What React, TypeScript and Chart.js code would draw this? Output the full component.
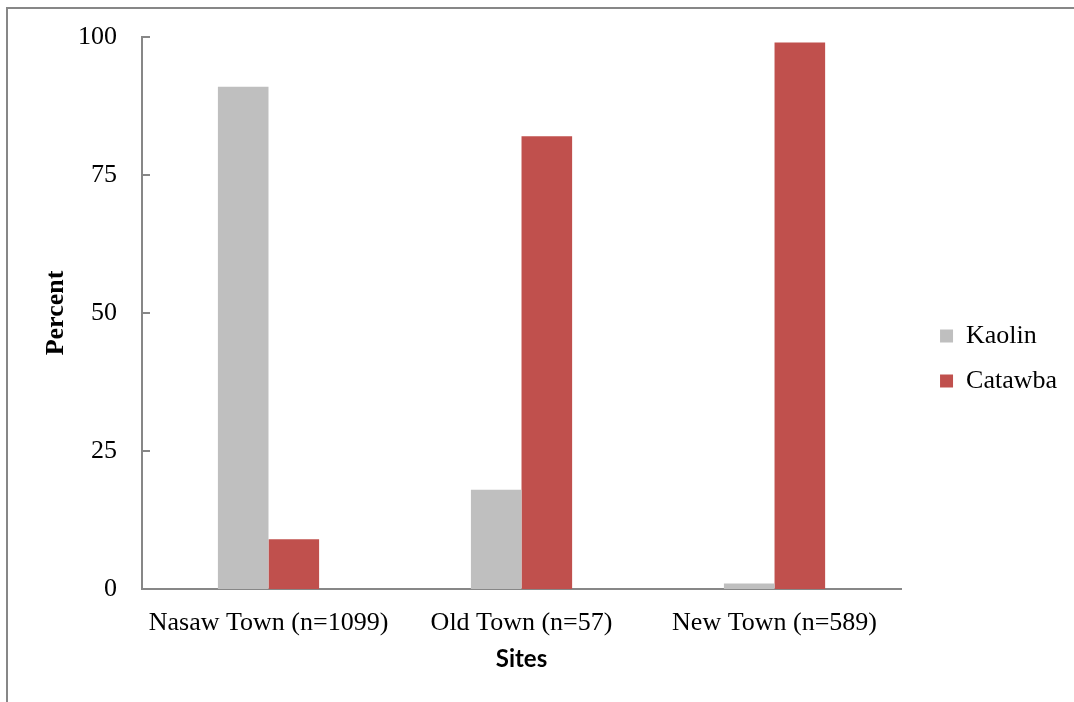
import React, { useEffect, useRef } from "react";
import { Chart, registerables } from "chart.js";

Chart.register(...registerables);

const categories = ["Nasaw Town (n=1099)", "Old Town (n=57)", "New Town (n=589)"];
const kaolinValues = [91, 18, 1];
const catawbaValues = [9, 82, 99];
const yTickValues = [0, 25, 50, 75, 100];
const seriesNames = ["Kaolin", "Catawba"];

const AXIS_GRAY = "#878787";
const SERIF = "'Liberation Serif', 'Times New Roman', serif";

const inwardTicks = {
  id: "inwardTicks",
  afterDraw(chart: any) {
    const { ctx, chartArea, scales } = chart;
    const y = scales.y;
    ctx.save();
    ctx.strokeStyle = AXIS_GRAY;
    ctx.lineWidth = 2;
    yTickValues.forEach((v) => {
      const py = Math.round(y.getPixelForValue(v));
      ctx.beginPath();
      ctx.moveTo(chartArea.left, py);
      ctx.lineTo(chartArea.left + 8, py);
      ctx.stroke();
    });
    ctx.restore();
  },
};

export default function App() {
  const ref = useRef<HTMLCanvasElement | null>(null);
  useEffect(() => {
    document.body.style.margin = "0";
    document.body.style.overflow = "hidden";
    const canvas = ref.current!;
    const chart = new Chart(canvas, {
      type: "bar",
      data: {
        labels: categories,
        datasets: [
          {
            label: seriesNames[0],
            data: kaolinValues,
            backgroundColor: "#BFBFBF",
            categoryPercentage: 0.4,
            barPercentage: 1,
          },
          {
            label: seriesNames[1],
            data: catawbaValues,
            backgroundColor: "#C0504D",
            categoryPercentage: 0.4,
            barPercentage: 1,
          },
        ],
      },
      options: {
        responsive: false,
        animation: false,
        devicePixelRatio: 1,
        layout: { padding: { top: 37, left: 0, right: 7, bottom: 22 } },
        plugins: {
          tooltip: { enabled: false },
          legend: {
            position: "right",
            align: "center",
            labels: {
              boxWidth: 13,
              boxHeight: 13,
              padding: 19,
              color: "#000",
              font: { family: SERIF, size: 26 },
            },
          },
        },
        scales: {
          x: {
            grid: { display: false, drawTicks: false },
            border: { display: true, color: AXIS_GRAY, width: 2 },
            ticks: {
              color: "#000",
              font: { family: SERIF, size: 26 },
              padding: 19,
              maxRotation: 0,
              autoSkip: false,
            },
            title: {
              display: true,
              text: "Sites",
              color: "#000",
              font: { family: "Lato, 'Liberation Sans', sans-serif", size: 24, weight: "bold" },
              padding: { top: 0, bottom: 6 },
            },
            afterFit: (s: any) => {
              s.height = 91;
            },
          },
          y: {
            min: 0,
            max: 100,
            afterBuildTicks: (s: any) => {
              s.ticks = yTickValues.map((v) => ({ value: v }));
            },
            grid: { display: false, drawTicks: false },
            border: { display: true, color: AXIS_GRAY, width: 2 },
            ticks: {
              color: "#000",
              font: { family: SERIF, size: 26, lineHeight: 0.9 },
              padding: 25,
            },
            title: {
              display: true,
              text: "Percent",
              color: "#000",
              font: { family: SERIF, size: 26, weight: "bold" },
              padding: { top: 41, bottom: 0 },
            },
            afterFit: (s: any) => {
              s.width = 142;
            },
          },
          spacer: {
            type: "linear",
            position: "right",
            display: true,
            grid: { display: false, drawTicks: false },
            border: { display: false },
            ticks: { display: false },
            afterFit: (s: any) => {
              s.width = 20;
            },
          },
        },
      },
      plugins: [inwardTicks],
    } as any);
    return () => chart.destroy();
  }, []);

  return (
    <div style={{ position: "relative", width: 1074, height: 702, overflow: "hidden" }}>
      <canvas ref={ref} width={1074} height={702} style={{ display: "block", width: 1074, height: 702 }} />
      <div
        style={{
          position: "absolute",
          left: 6,
          top: 7,
          width: 1100,
          height: 720,
          borderTop: `2px solid ${AXIS_GRAY}`,
          borderLeft: `2px solid ${AXIS_GRAY}`,
          pointerEvents: "none",
        }}
      />
    </div>
  );
}
